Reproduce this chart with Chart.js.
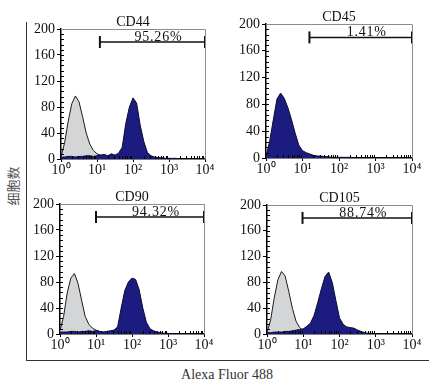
<!DOCTYPE html>
<html>
<head>
<meta charset="utf-8">
<script src="https://cdn.jsdelivr.net/npm/chart.js@4.4.0/dist/chart.umd.min.js"></script>
<style>
  body { margin: 0; width: 435px; height: 387px; background: #fff; position: relative; overflow: hidden; }
  canvas { position: absolute; }
  #frame { position: absolute; left: 26px; top: 22px; width: 402px; height: 338px;
           border-left: 1.5px solid #333; border-bottom: 1.5px solid #333; }
  #ylab { position: absolute; left: 12px; top: 186px; transform: translate(-50%, -50%) rotate(-90deg);
          font: 13px 'Noto Sans CJK SC'; color: #555; white-space: nowrap; }
  #xlab { position: absolute; left: 227px; top: 375px; transform: translate(-50%, -50%);
          font: 14px 'Liberation Serif'; color: #333; white-space: nowrap; }
</style>
</head>
<body>
<div id="frame"></div>
<div id="ylab">细胞数</div>
<div id="xlab">Alexa Fluor 488</div>
<canvas id="p1"></canvas>
<canvas id="p2"></canvas>
<canvas id="p3"></canvas>
<canvas id="p4"></canvas>
<script>
// log10 of fluorescence, one bin every 0.1 decade
const logBins = [0.0, 0.1, 0.2, 0.3, 0.4, 0.5, 0.6, 0.7, 0.8, 0.9,
                 1.0, 1.1, 1.2, 1.3, 1.4, 1.5, 1.6, 1.7, 1.8, 1.9,
                 2.0, 2.1, 2.2, 2.3, 2.4, 2.5, 2.6, 2.7, 2.8, 2.9,
                 3.0, 3.1, 3.2, 3.3, 3.4, 3.5, 3.6, 3.7, 3.8, 3.9,
                 4.0];

const yTicks = [0, 40, 80, 120, 160, 200];
const xTickLabels = ['10\u2070', '10\u00b9', '10\u00b2', '10\u00b3', '10\u2074'];

const titles = ['CD44', 'CD45', 'CD90', 'CD105'];
const gateText = ['95.26%', '1.41%', '94.32%', '88.74%'];
const gateFrom = [1.08, 1.19, 1.0, 0.98];
const gateTo = [4, 4, 4, 4];
const gateLevel = [180, 180, 180, 180];

// isotype control (grey)
const cd44Control = [3, 25, 58, 85, 97, 88, 65, 40, 23, 13,
                     8, 6, 4, 3, 2, 1, 1, 1, 0, 0,
                     0, 0, 0, 0, 0, 0, 0, 0, 0, 0,
                     0, 0, 0, 0, 0, 0, 0, 0, 0, 0,
                     0];
const cd90Control = [5, 27, 63, 86, 93, 78, 52, 27, 15, 9,
                     6, 4, 3, 2, 1, 1, 0, 0, 0, 0,
                     0, 0, 0, 0, 0, 0, 0, 0, 0, 0,
                     0, 0, 0, 0, 0, 0, 0, 0, 0, 0,
                     0];
const cd105Control = [2, 22, 56, 84, 97, 90, 66, 40, 20, 10,
                      5, 3, 2, 1, 0, 0, 0, 0, 0, 0,
                      0, 0, 0, 0, 0, 0, 0, 0, 0, 0,
                      0, 0, 0, 0, 0, 0, 0, 0, 0, 0,
                      0];

// stained sample (blue)
const cd44Stain = [3, 3, 4, 4, 3, 4, 4, 5, 5, 4,
                   5, 6, 7, 5, 8, 6, 9, 18, 55, 80,
                   94, 86, 52, 27, 10, 5, 3, 2, 2, 1,
                   1, 1, 1, 0, 0, 0, 0, 0, 0, 0,
                   0];
const cd45Stain = [2, 25, 57, 88, 97, 89, 75, 57, 37, 19,
                   11, 8, 6, 4, 3, 3, 2, 2, 1, 1,
                   1, 1, 1, 1, 0, 0, 0, 0, 0, 0,
                   0, 0, 0, 0, 0, 0, 0, 0, 0, 0,
                   0];
const cd90Stain = [3, 3, 3, 4, 4, 3, 4, 4, 5, 4,
                   5, 4, 3, 4, 5, 6, 11, 40, 67, 80,
                   86, 84, 68, 40, 18, 8, 5, 3, 2, 1,
                   1, 0, 0, 0, 0, 0, 0, 0, 0, 0,
                   0];
const cd105Stain = [2, 2, 3, 3, 3, 4, 4, 5, 6, 7,
                    8, 12, 17, 29, 49, 70, 89, 96, 80, 52,
                    25, 15, 11, 10, 9, 6, 4, 2, 1, 1,
                    0, 0, 0, 0, 0, 0, 0, 0, 0, 0,
                    0];

const controls = [cd44Control, null, cd90Control, cd105Control];
const stains = [cd44Stain, cd45Stain, cd90Stain, cd105Stain];

// plot area of each panel on the page: left, top, right, bottom
const areas = [[61, 29, 205, 159], [266, 24, 412, 158], [60, 204, 204, 334], [267, 205, 412, 334]];
const Y_AXIS_W = 40, X_AXIS_H = 22, PAD_TOP = 26, PAD_RIGHT = 12;

const serif = 'Liberation Serif';
Chart.defaults.font.family = serif;
Chart.defaults.font.size = 14;
Chart.defaults.color = '#111';

// grey box, minor ticks, title and gate label
const panelDecor = {
    id: 'panelDecor',
    afterDraw(chart, args, opts) {
        const ctx = chart.ctx;
        const a = chart.chartArea;
        const x = chart.scales.x, y = chart.scales.y;
        ctx.save();
        ctx.strokeStyle = '#8c8c8c';
        ctx.lineWidth = 1;
        ctx.beginPath();
        ctx.moveTo(a.left, a.top + 0.5);
        ctx.lineTo(a.right + 0.5, a.top + 0.5);
        ctx.lineTo(a.right + 0.5, a.bottom);
        ctx.stroke();

        ctx.strokeStyle = '#000';
        ctx.beginPath();
        for (let d = 0; d < 4; d++) {
            for (let k = 2; k < 10; k++) {
                const px = Math.round(x.getPixelForValue(d + Math.log10(k))) + 0.5;
                ctx.moveTo(px, a.bottom);
                ctx.lineTo(px, a.bottom - 3);
            }
        }
        for (let v = 8; v < 200; v += 8) {
            const py = Math.round(y.getPixelForValue(v)) + 0.5;
            ctx.moveTo(a.left, py);
            ctx.lineTo(a.left + 3, py);
        }
        ctx.stroke();

        ctx.fillStyle = '#111';
        ctx.textAlign = 'center';
        ctx.textBaseline = 'alphabetic';
        ctx.font = '14px "' + serif + '"';
        ctx.fillText(opts.title, (a.left + a.right) / 2, a.top - 3);

        const gate = chart.getDatasetMeta(0).data;
        ctx.font = '14px "' + serif + '"';
        ctx.letterSpacing = '0.8px';
        ctx.fillText(opts.label, (gate[0].x + gate[1].x) / 2 + 6, gate[0].y - 1);
        ctx.restore();
    }
};

function makePanel(i) {
    const [l, t, r, b] = areas[i];
    const canvas = document.getElementById('p' + (i + 1));
    canvas.width = (r - l) + Y_AXIS_W + PAD_RIGHT;
    canvas.height = (b - t) + PAD_TOP + X_AXIS_H;
    canvas.style.left = (l - Y_AXIS_W) + 'px';
    canvas.style.top = (t - PAD_TOP) + 'px';

    const datasets = [
        {
            data: [{ x: gateFrom[i], y: gateLevel[i] }, { x: gateTo[i], y: gateLevel[i] }],
            borderColor: '#111',
            borderWidth: 1.5,
            pointStyle: 'line',
            rotation: 90,
            pointRadius: 6,
            pointBorderWidth: 2,
            pointBorderColor: '#111',
            fill: false
        },
        {
            data: logBins.map((v, j) => ({ x: v, y: stains[i][j] })),
            borderColor: '#0c0c30',
            borderWidth: 1,
            backgroundColor: '#1b1b80',
            pointRadius: 0,
            fill: 'origin'
        }
    ];
    if (controls[i]) {
        datasets.push({
            data: logBins.map((v, j) => ({ x: v, y: controls[i][j] })),
            borderColor: '#1a1a1a',
            borderWidth: 1,
            backgroundColor: '#d3d5d7',
            pointRadius: 0,
            fill: 'origin'
        });
    }

    return new Chart(canvas.getContext('2d'), {
        type: 'line',
        data: { datasets: datasets },
        options: {
            responsive: false,
            animation: false,
            events: [],
            layout: { padding: { top: PAD_TOP, right: PAD_RIGHT, left: 0, bottom: 0 } },
            plugins: {
                legend: { display: false },
                tooltip: { enabled: false },
                panelDecor: { title: titles[i], label: gateText[i] }
            },
            scales: {
                x: {
                    type: 'linear',
                    min: 0,
                    max: 4,
                    afterFit: s => { s.height = X_AXIS_H; },
                    border: { display: true, color: '#000', width: 1.5 },
                    grid: { display: true, drawOnChartArea: false, tickLength: 3, color: '#000' },
                    ticks: {
                        stepSize: 1,
                        padding: 0,
                        maxRotation: 0,
                        color: '#111',
                        font: { family: serif, size: 14 },
                        callback: v => xTickLabels[v]
                    }
                },
                y: {
                    min: 0,
                    max: 200,
                    afterFit: s => { s.width = Y_AXIS_W; },
                    afterBuildTicks: s => { s.ticks = yTicks.map(v => ({ value: v })); },
                    border: { display: true, color: '#000', width: 1.5 },
                    grid: { display: true, drawOnChartArea: false, tickLength: 4, color: '#000' },
                    ticks: {
                        padding: 2,
                        color: '#111',
                        font: { family: serif, size: 14 }
                    }
                }
            }
        },
        plugins: [panelDecor]
    });
}

titles.forEach((t, i) => makePanel(i));
</script>
</body>
</html>
